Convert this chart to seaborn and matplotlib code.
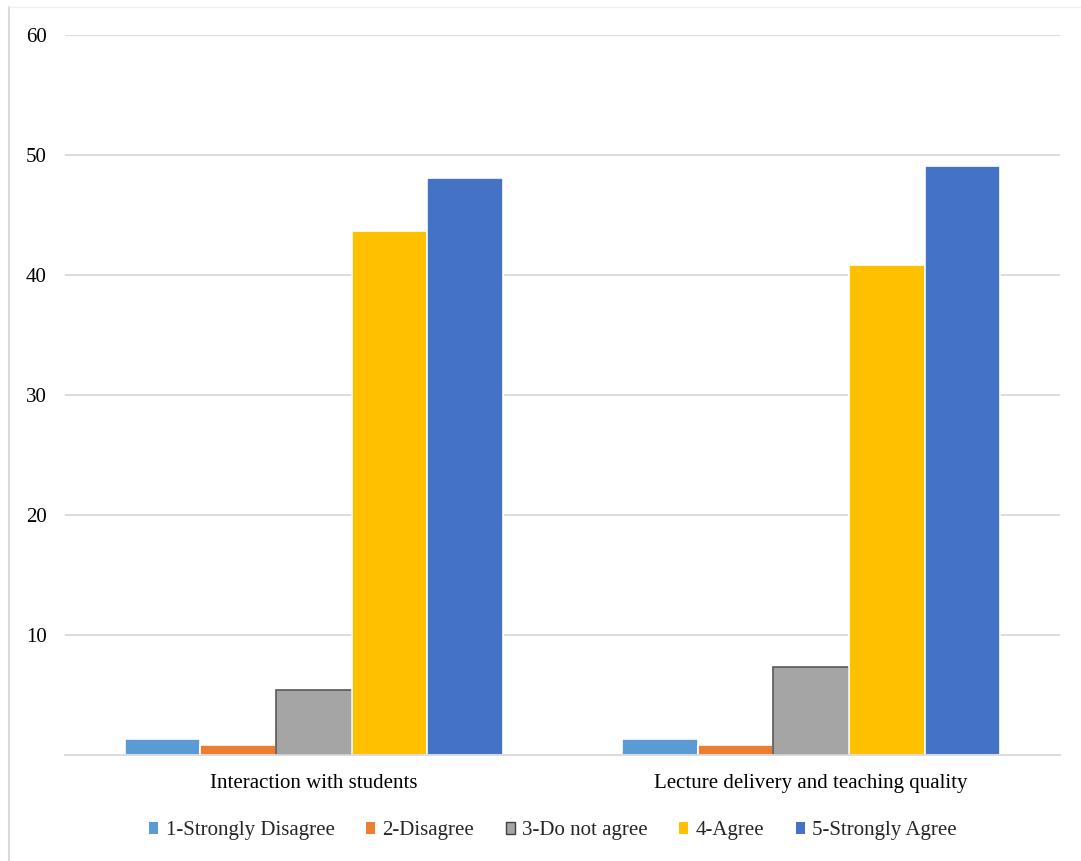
import matplotlib
matplotlib.use("Agg")
import matplotlib.pyplot as plt
from matplotlib.lines import Line2D
from matplotlib.patches import Rectangle
import seaborn as sns
import pandas as pd

# Survey results (percent of respondents)
categories = ["Interaction with students", "Lecture delivery and teaching quality"]
levels = ["1-Strongly Disagree", "2-Disagree", "3-Do not agree", "4-Agree", "5-Strongly Agree"]
interaction = [1.3, 0.8, 5.4, 43.7, 48.1]
lecture = [1.3, 0.8, 7.3, 40.8, 49.1]
yticks = [10, 20, 30, 40, 50, 60]

colors = ["#5B9BD5", "#ED7D31", "#A5A5A5", "#FFC000", "#4472C4"]

df = pd.DataFrame({
    "category": [categories[0]] * len(levels) + [categories[1]] * len(levels),
    "level": levels * 2,
    "value": interaction + lecture,
})

sns.set_theme(style="white")
plt.rcParams["font.family"] = ["Liberation Serif", "DejaVu Serif"]

W, H = 1081, 861
fig = plt.figure(figsize=(W / 100, H / 100), dpi=100)
ax = fig.add_axes([65 / W, 1 - 755 / H, (1060 - 65) / W, (755 - 35) / H])

sns.barplot(data=df, x="category", y="value", hue="level", order=categories,
            hue_order=levels, palette=colors, width=0.76, dodge=True,
            saturation=1, edgecolor="white", linewidth=1.2, legend=False, ax=ax)

# the neutral bars carry a darker outline
for bar in ax.containers[2]:
    bar.set_edgecolor("#595959")
    bar.set_linewidth(1.2)

ax.set_ylim(0, 60)
ax.set_xlim(-0.5, 1.5)
ax.set_yticks(yticks)
ax.set_yticklabels([str(t) for t in yticks])
ax.set_xlabel("")
ax.set_ylabel("")
ax.grid(axis="y", color="#D9D9D9", linewidth=1.3)
ax.set_axisbelow(True)
for s in ["top", "right", "left"]:
    ax.spines[s].set_visible(False)
ax.spines["bottom"].set_color("#D9D9D9")
ax.spines["bottom"].set_linewidth(1.3)

ax.tick_params(axis="y", length=0, pad=13, labelsize=15, labelcolor="black")
ax.tick_params(axis="x", which="major", length=0, pad=14, labelsize=15, labelcolor="black")
ax.set_xticks([-0.5, 0.5, 1.5], minor=True)
ax.tick_params(axis="x", which="minor", length=6, width=1.3, color="#D9D9D9")

handles = []
for i, c in enumerate(colors):
    if i == 2:
        handles.append(Rectangle((0, 0), 1, 1, facecolor=c, edgecolor="#404040", linewidth=1))
    else:
        handles.append(Rectangle((0, 0), 1, 1, facecolor=c, edgecolor="none"))
leg = fig.legend(handles, levels, loc="center", bbox_to_anchor=(553 / W, 1 - 831 / H),
                 ncol=5, frameon=False, fontsize=15, handlelength=0.45, handleheight=0.5,
                 handletextpad=0.35, columnspacing=1.5)

# light frame around the chart
fig.add_artist(Line2D([9 / W, 9 / W], [0, 1 - 7 / H], color="#D9D9D9", linewidth=1.5))
fig.add_artist(Line2D([9 / W, 1], [1 - 7 / H, 1 - 7 / H], color="#F0F0F0", linewidth=1))

fig.savefig("out.png", dpi=100)
